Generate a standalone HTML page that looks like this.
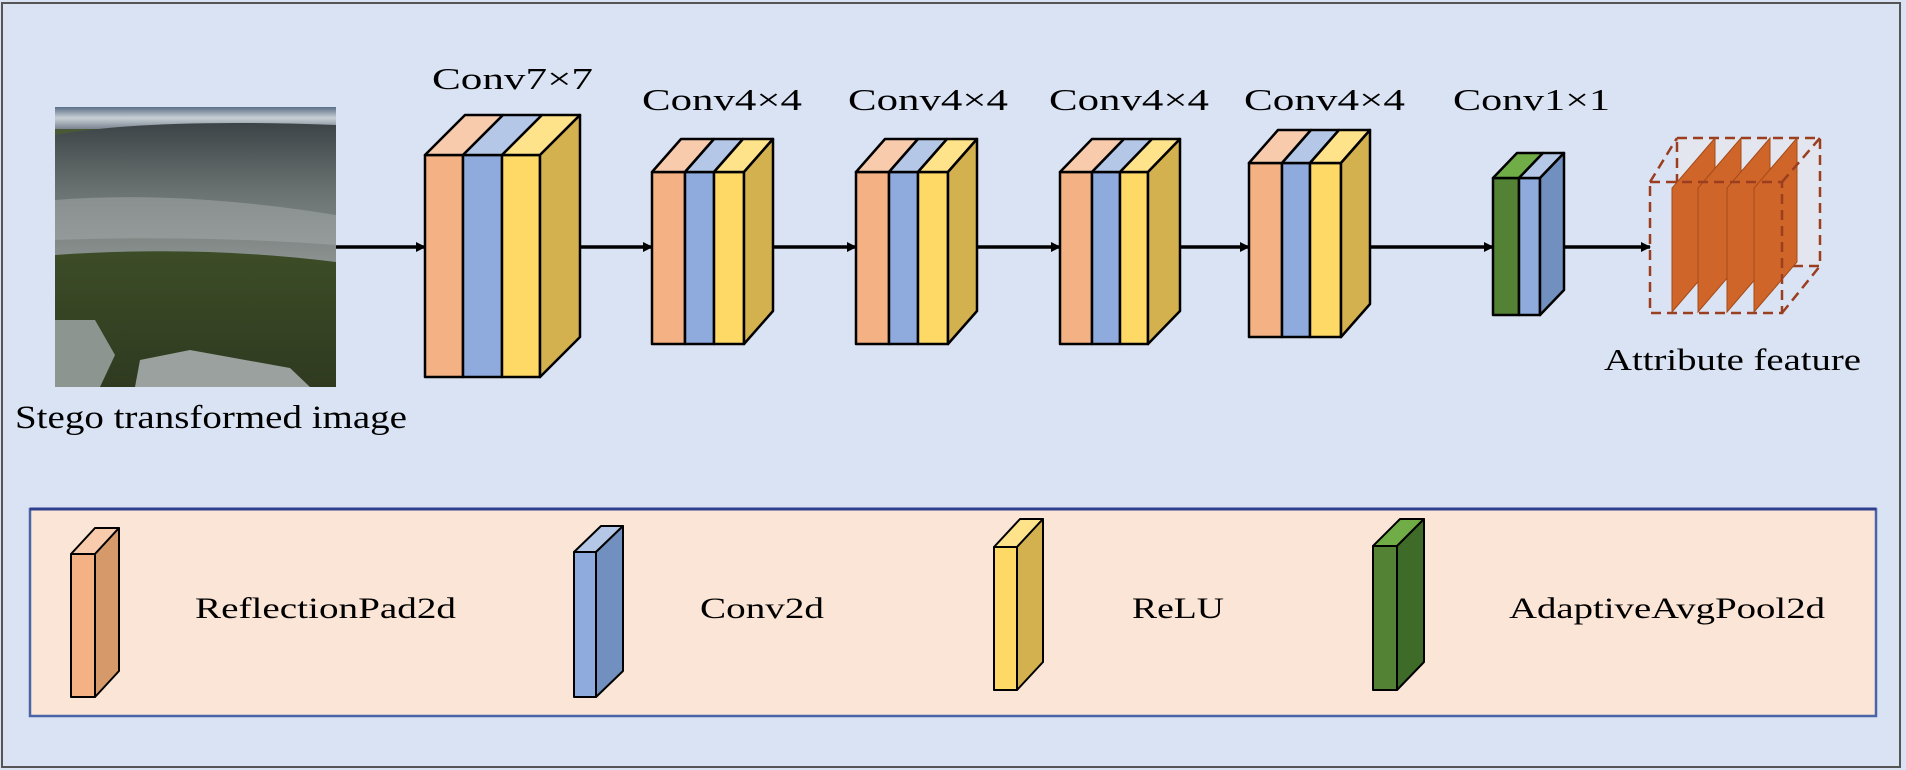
<!DOCTYPE html>
<html><head><meta charset="utf-8"><style>
html,body{margin:0;padding:0;background:#dae3f3;}
svg{display:block;}
text{font-family:"Liberation Serif",serif;fill:#000;}
</style></head><body>
<svg width="1906" height="770" viewBox="0 0 1906 770" xmlns="http://www.w3.org/2000/svg">
<defs>
<marker id="ah" markerWidth="10" markerHeight="10" refX="9" refY="5" orient="auto" markerUnits="userSpaceOnUse">
<path d="M0,0 L10,5 L0,10 Z" fill="#000"/></marker>
<linearGradient id="sky" x1="0" y1="0" x2="0" y2="1">
<stop offset="0" stop-color="#5a6f86"/><stop offset="0.5" stop-color="#c9d0d6"/><stop offset="1" stop-color="#7a8490"/></linearGradient>
<linearGradient id="mtn" x1="0" y1="0" x2="0" y2="1">
<stop offset="0" stop-color="#3c4447"/><stop offset="0.5" stop-color="#6b7372"/><stop offset="1" stop-color="#8b9290"/></linearGradient>
<linearGradient id="for" x1="0" y1="0" x2="0" y2="1">
<stop offset="0" stop-color="#4d5a3a"/><stop offset="0.5" stop-color="#3d4d27"/><stop offset="1" stop-color="#2f3a20"/></linearGradient>
</defs>
<rect x="2" y="3" width="1898" height="764" fill="#dae3f3" stroke="#555" stroke-width="2"/>

<!-- photo -->
<rect x="55" y="107" width="281" height="280" fill="url(#for)"/>
<rect x="55" y="107" width="281" height="22" fill="url(#sky)"/>
<path d="M55,135 Q150,118 336,125 L336,262 Q200,245 55,255 Z" fill="url(#mtn)"/>
<path d="M55,200 Q180,190 336,215 L336,245 Q200,235 55,240 Z" fill="#a6acab" opacity="0.5"/>
<path d="M55,320 L95,320 L115,355 L100,387 L55,387 Z" fill="#8d9591"/>
<path d="M140,360 L190,350 L290,368 L310,387 L135,387 Z" fill="#9aa19e"/>

<!-- arrows -->
<g stroke="#000" stroke-width="3.5" marker-end="url(#ah)">
<line x1="336" y1="247" x2="425" y2="247"/>
<line x1="580" y1="247" x2="652" y2="247"/>
<line x1="773" y1="247" x2="856" y2="247"/>
<line x1="977" y1="247" x2="1060" y2="247"/>
<line x1="1180" y1="247" x2="1249" y2="247"/>
<line x1="1370" y1="247" x2="1493" y2="247"/>
<line x1="1564" y1="247" x2="1650" y2="247"/>
</g>

<g stroke="#000" stroke-width="2.5" stroke-linejoin="round">
<!-- block1 -->
<rect x="425" y="155" width="38" height="222" fill="#f4b183"/>
<rect x="463" y="155" width="39" height="222" fill="#8faadc"/>
<rect x="502" y="155" width="38" height="222" fill="#ffd966"/>
<polygon points="425,155 463,155 503,115 465,115" fill="#f8cbad"/>
<polygon points="463,155 502,155 542,115 503,115" fill="#b4c7e7"/>
<polygon points="502,155 540,155 580,115 542,115" fill="#ffe38a"/>
<polygon points="540,155 580,115 580,337 540,377" fill="#d4b14f"/>
<!-- block2 -->
<rect x="652" y="172" width="33" height="172" fill="#f4b183"/>
<rect x="685" y="172" width="29" height="172" fill="#8faadc"/>
<rect x="714" y="172" width="30" height="172" fill="#ffd966"/>
<polygon points="652,172 685,172 714,139 681,139" fill="#f8cbad"/>
<polygon points="685,172 714,172 743,139 714,139" fill="#b4c7e7"/>
<polygon points="714,172 744,172 773,139 743,139" fill="#ffe38a"/>
<polygon points="744,172 773,139 773,311 744,344" fill="#d4b14f"/>
<!-- block3 -->
<rect x="856" y="172" width="33" height="172" fill="#f4b183"/>
<rect x="889" y="172" width="29" height="172" fill="#8faadc"/>
<rect x="918" y="172" width="30" height="172" fill="#ffd966"/>
<polygon points="856,172 889,172 918,139 885,139" fill="#f8cbad"/>
<polygon points="889,172 918,172 947,139 918,139" fill="#b4c7e7"/>
<polygon points="918,172 948,172 977,139 947,139" fill="#ffe38a"/>
<polygon points="948,172 977,139 977,311 948,344" fill="#d4b14f"/>
<!-- block4 -->
<rect x="1060" y="172" width="32" height="172" fill="#f4b183"/>
<rect x="1092" y="172" width="28" height="172" fill="#8faadc"/>
<rect x="1120" y="172" width="28" height="172" fill="#ffd966"/>
<polygon points="1060,172 1092,172 1124,139 1092,139" fill="#f8cbad"/>
<polygon points="1092,172 1120,172 1152,139 1124,139" fill="#b4c7e7"/>
<polygon points="1120,172 1148,172 1180,139 1152,139" fill="#ffe38a"/>
<polygon points="1148,172 1180,139 1180,311 1148,344" fill="#d4b14f"/>
<!-- block5 -->
<rect x="1249" y="163" width="33" height="174" fill="#f4b183"/>
<rect x="1282" y="163" width="28" height="174" fill="#8faadc"/>
<rect x="1310" y="163" width="31" height="174" fill="#ffd966"/>
<polygon points="1249,163 1282,163 1311,130 1278,130" fill="#f8cbad"/>
<polygon points="1282,163 1310,163 1339,130 1311,130" fill="#b4c7e7"/>
<polygon points="1310,163 1341,163 1370,130 1339,130" fill="#ffe38a"/>
<polygon points="1341,163 1370,130 1370,304 1341,337" fill="#d4b14f"/>
<!-- block6 -->
<rect x="1493" y="178" width="26" height="137" fill="#548235"/>
<rect x="1519" y="178" width="21" height="137" fill="#8faadc"/>
<polygon points="1493,178 1519,178 1543,153 1517,153" fill="#70ad47"/>
<polygon points="1519,178 1540,178 1564,153 1543,153" fill="#b4c7e7"/>
<polygon points="1540,178 1564,153 1564,290 1540,315" fill="#7190bf"/>
</g>

<!-- attribute feature -->
<g stroke="#9b3d1f" stroke-width="2.5" fill="none" stroke-dasharray="10,6">
<rect x="1677" y="138" width="143" height="128" fill="#e3e6ee" stroke="none"/>
<polyline points="1677,140 1677,140"/>
<rect x="1677" y="138" width="143" height="128"/>
</g>
<g fill="#d0652a" stroke="#a34a18" stroke-width="1">
<polygon points="1672,312 1672,188 1715,138 1715,262"/>
<polygon points="1698,312 1698,188 1741,138 1741,262"/>
<polygon points="1727,312 1727,188 1770,138 1770,262"/>
<polygon points="1754,312 1754,188 1797,138 1797,262"/>
</g>
<g stroke="#9b3d1f" stroke-width="2.5" fill="none" stroke-dasharray="10,6">
<rect x="1650" y="182" width="132" height="131"/>
<line x1="1650" y1="182" x2="1677" y2="138"/>
<line x1="1782" y1="182" x2="1820" y2="138"/>
<line x1="1782" y1="313" x2="1820" y2="266"/>
</g>

<!-- labels -->
<g font-size="31">
<text x="432" y="89" textLength="161" lengthAdjust="spacingAndGlyphs">Conv7×7</text>
<text x="642" y="110" textLength="160" lengthAdjust="spacingAndGlyphs">Conv4×4</text>
<text x="848" y="110" textLength="160" lengthAdjust="spacingAndGlyphs">Conv4×4</text>
<text x="1049" y="110" textLength="160" lengthAdjust="spacingAndGlyphs">Conv4×4</text>
<text x="1244" y="110" textLength="161" lengthAdjust="spacingAndGlyphs">Conv4×4</text>
<text x="1453" y="110" textLength="157" lengthAdjust="spacingAndGlyphs">Conv1×1</text>
<text x="1604" y="370" textLength="257" lengthAdjust="spacingAndGlyphs">Attribute feature</text>
<text x="15" y="428" textLength="392" lengthAdjust="spacingAndGlyphs" font-size="33">Stego transformed image</text>
</g>

<!-- legend -->
<rect x="30" y="509" width="1846" height="207" fill="#fbe5d6" stroke="#4a64a8" stroke-width="2.5"/>
<line x1="30" y1="509" x2="1876" y2="509" stroke="#2f3f8f" stroke-width="3"/>
<g stroke="#000" stroke-width="2" stroke-linejoin="round">
<rect x="71" y="554" width="24" height="143" fill="#f4b183"/>
<polygon points="71,554 95,554 119,528 95,528" fill="#f8cbad"/>
<polygon points="95,554 119,528 119,671 95,697" fill="#d69a6a"/>
<rect x="574" y="552" width="22" height="145" fill="#8faadc"/>
<polygon points="574,552 596,552 623,526 601,526" fill="#b4c7e7"/>
<polygon points="596,552 623,526 623,671 596,697" fill="#7190bf"/>
<rect x="994" y="547" width="23" height="143" fill="#ffd966"/>
<polygon points="994,547 1017,547 1043,519 1020,519" fill="#ffe38a"/>
<polygon points="1017,547 1043,519 1043,662 1017,690" fill="#d4b14f"/>
<rect x="1373" y="546" width="24" height="144" fill="#548235"/>
<polygon points="1373,546 1397,546 1424,519 1400,519" fill="#70ad47"/>
<polygon points="1397,546 1424,519 1424,662 1397,690" fill="#3f6b28"/>
</g>
<g font-size="30">
<text x="195" y="618" textLength="261" lengthAdjust="spacingAndGlyphs">ReflectionPad2d</text>
<text x="700" y="618" textLength="124" lengthAdjust="spacingAndGlyphs">Conv2d</text>
<text x="1132" y="618" textLength="92" lengthAdjust="spacingAndGlyphs">ReLU</text>
<text x="1509" y="618" textLength="316" lengthAdjust="spacingAndGlyphs">AdaptiveAvgPool2d</text>
</g>
</svg>
</body></html>
